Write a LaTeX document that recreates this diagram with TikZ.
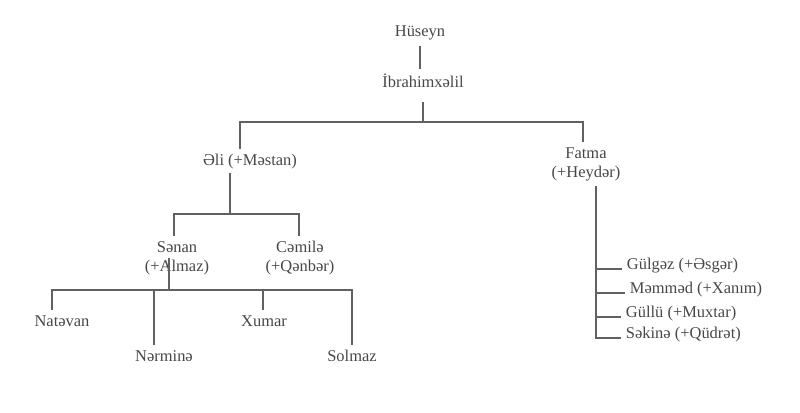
\documentclass[tikz,border=0pt]{standalone}
\usepackage{fontspec}
\setmainfont{Liberation Serif}
\usetikzlibrary{calc}

\begin{document}
\begin{tikzpicture}[x=0.025cm,y=-0.025cm,
    person/.style={text=black!72,font=\fontsize{11.7}{13.5}\selectfont,align=center},
    link/.style={draw=black!62,line width=0.9pt}]
    \useasboundingbox (0,0) rectangle (800,413);

    % Persons
    \node[person,anchor=base] (hus) at (420,37) {Hüseyn};
    \node[person,anchor=base] (ibr) at (423,88) {İbrahimxəlil};
    \node[person,anchor=base] (eli) at (250,165) {Əli (+Məstan)};
    \node[person] (fatma) at (586,164) {Fatma\\(+Heydər)};
    \node[person] (senan) at (177,258) {Sənan\\(+Almaz)};
    \node[person] (cemile) at (300,258) {Cəmilə\\(+Qənbər)};
    \node[person,anchor=base] (natevan) at (62,326) {Natəvan};
    \node[person,anchor=base] (nermine) at (164,361) {Nərminə};
    \node[person,anchor=base] (xumar) at (264,326) {Xumar};
    \node[person,anchor=base] (solmaz) at (352,361) {Solmaz};
    \node[person,anchor=base west] (gulgez) at (622,269) {Gülgəz (+Əsgər)};
    \node[person,anchor=base west] (memmed) at (625,293) {Məmməd (+Xanım)};
    \node[person,anchor=base west] (gullu) at (621,317) {Güllü (+Muxtar)};
    \node[person,anchor=base west] (sekine) at (621,338) {Səkinə (+Qüdrət)};

    % Joints
    \coordinate (j1) at (240,122);
    \coordinate (j2) at (583,122);
    \coordinate (k0) at (230,214);
    \coordinate (k1) at (174,214);
    \coordinate (k2) at (299,214);
    \coordinate (m0) at (169,290);
    \coordinate (m1) at (52,290);
    \coordinate (m2) at (154,290);
    \coordinate (m3) at (263,290);
    \coordinate (m4) at (352,290);
    \coordinate (f0) at (596,339);

    % Lines
    \draw[link] (hus.south) -- (hus.south |- ibr.north);
    \draw[link] ($(ibr.south)+(0,9)$) -- (ibr.south |- j1);
    \draw[link] (eli.north -| j1) -- (j1) -- (j2) -- (fatma.north -| j2);
    \draw[link] (eli.south -| k0) -- (k0);
    \draw[link] (senan.north -| k1) -- (k1) -- (k2) -- (cemile.north -| k2);
    \draw[link] (senan.center -| m0) -- (m0);
    \draw[link] (natevan.north -| m1) -- (m1) -- (m4) -- (solmaz.north -| m4);
    \draw[link] (m2) -- (nermine.north -| m2);
    \draw[link] (m3) -- (xumar.north -| m3);
    \draw[link] (fatma.south -| f0) -- (f0);
    \foreach \c in {gulgez,memmed,gullu,sekine}
        \draw[link] (\c.base west -| f0) -- (\c.base west);
\end{tikzpicture}
\end{document}
